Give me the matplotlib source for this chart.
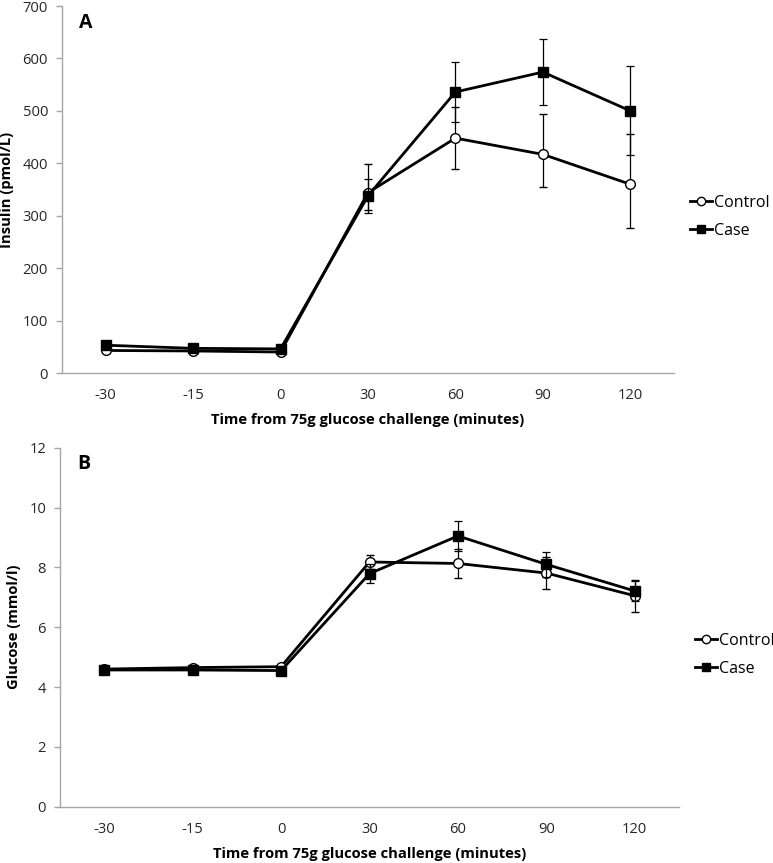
import matplotlib
matplotlib.use("Agg")
import matplotlib.pyplot as plt
from matplotlib.lines import Line2D
import numpy as np

plt.rcParams['font.family'] = ['Open Sans', 'DejaVu Sans']

times = ["-30", "-15", "0", "30", "60", "90", "120"]

# Panel A: insulin (pmol/L)
ins_control = [43, 42, 40, 344, 448, 417, 360]
ins_control_lo = [4, 4, 4, 33, 59, 63, 83]
ins_control_hi = [4, 4, 4, 54, 59, 77, 96]
ins_case = [53, 47, 46, 338, 536, 574, 500]
ins_case_lo = [5, 4, 4, 33, 58, 63, 84]
ins_case_hi = [5, 4, 4, 32, 58, 63, 85]

# Panel B: glucose (mmol/l)
glu_control = [4.60, 4.65, 4.68, 8.18, 8.13, 7.81, 7.05]
glu_control_err = [0.05, 0.05, 0.05, 0.25, 0.50, 0.53, 0.53]
glu_case = [4.57, 4.57, 4.55, 7.79, 9.05, 8.10, 7.21]
glu_case_err = [0.05, 0.05, 0.05, 0.31, 0.50, 0.43, 0.35]

W, H = 773, 863
fig = plt.figure(figsize=(W / 100, H / 100), dpi=100)

axA = fig.add_axes([62 / W, 1 - 373 / H, 612 / W, 367 / H])
axB = fig.add_axes([60 / W, 1 - 806.7 / H, 619 / W, 359 / H])

x = np.arange(len(times))
grey = '#a6a6a6'
fs = 10.6


def draw(ax, yc, yc_err, yk, yk_err, ylim, yticks, ylabel, letter, legend_pos):
    ax.errorbar(x, yc, yerr=yc_err, color='black', lw=2.0, marker='o', ms=7,
                mfc='white', mec='black', mew=1.0, ecolor='black', elinewidth=0.9,
                capsize=3, capthick=0.9, zorder=3)
    ax.errorbar(x, yk, yerr=yk_err, color='black', lw=2.0, marker='s', ms=7,
                mfc='black', mec='black', ecolor='black', elinewidth=0.9,
                capsize=3, capthick=0.9, zorder=4)
    ax.set_xlim(-0.5, len(times) - 0.5)
    ax.set_ylim(*ylim)
    ax.set_xticks(x)
    ax.set_xticklabels(times, fontsize=fs, color='#262626')
    ax.set_yticks(yticks)
    ax.set_yticklabels([str(t) for t in yticks], fontsize=fs, color='#262626')
    ax.tick_params(axis='x', length=0, pad=11)
    ax.tick_params(axis='y', length=4, width=1, color=grey, pad=6)
    for s in ['top', 'right']:
        ax.spines[s].set_visible(False)
    for s in ['left', 'bottom']:
        ax.spines[s].set_color(grey)
        ax.spines[s].set_linewidth(1.0)
    ax.set_xlabel('Time from 75g glucose challenge (minutes)', fontsize=fs,
                  fontweight='bold', labelpad=7)
    ax.set_ylabel(ylabel, fontsize=fs, fontweight='bold', labelpad=6)
    ax.text(0.028, 0.955, letter, transform=ax.transAxes, fontsize=14,
            fontweight='bold', va='center', ha='left')
    handles = [
        Line2D([], [], color='black', lw=2.0, marker='o', ms=6, mfc='white',
               mec='black', mew=1.0),
        Line2D([], [], color='black', lw=2.0, marker='s', ms=6, mfc='black',
               mec='black'),
    ]
    ax.legend(handles, ['Control', 'Case'], loc='center left',
              bbox_to_anchor=legend_pos, bbox_transform=fig.transFigure,
              frameon=False, fontsize=11.5, handlelength=1.4, handletextpad=0.1,
              labelspacing=0.75, borderaxespad=0, borderpad=0)


draw(axA, ins_control, [ins_control_lo, ins_control_hi],
     ins_case, [ins_case_lo, ins_case_hi],
     (0, 700), list(range(0, 701, 100)), 'Insulin (pmol/L)', 'A',
     (690 / W, 1 - 217 / H))
draw(axB, glu_control, glu_control_err, glu_case, glu_case_err,
     (0, 12), list(range(0, 13, 2)), 'Glucose (mmol/l)', 'B',
     (695 / W, 1 - 655 / H))

fig.savefig('out.png', dpi=100)
